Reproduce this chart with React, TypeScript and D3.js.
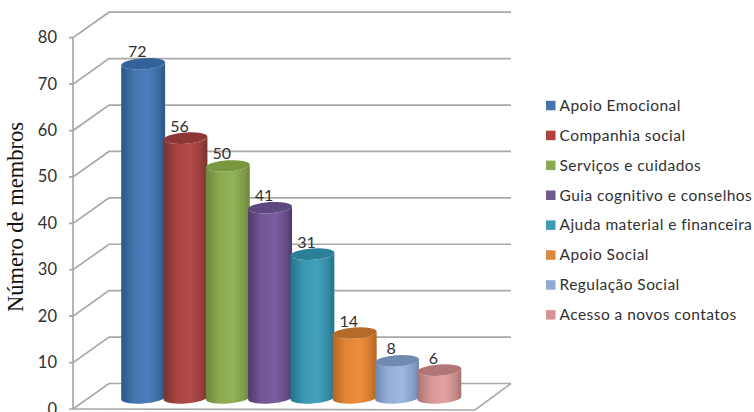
import React from "react";
import * as d3 from "d3";

const categories = [
  "Apoio Emocional",
  "Companhia social",
  "Serviços e cuidados",
  "Guia cognitivo e conselhos",
  "Ajuda material e financeira",
  "Apoio Social",
  "Regulação Social",
  "Acesso a novos contatos",
];
const values = [72, 56, 50, 41, 31, 14, 8, 6];
const yTicks = [0, 10, 20, 30, 40, 50, 60, 70, 80];
const mainColors = ["#4a7ebb", "#b34a48", "#93b356", "#7c5da1", "#43a2bd", "#ee8d3d", "#a0b8e0", "#e3a2a2"];
const edgeColors = ["#2c5686", "#78322f", "#6b853c", "#4e3a6b", "#22728a", "#b4651f", "#6d86b0", "#a87272"];
const capColors = ["#33639a", "#8d3836", "#78973f", "#5d4880", "#2b7f96", "#b56a2a", "#708aB2", "#b27678"];
const legendColors = ["#4575ad", "#b0413e", "#8aa94e", "#71588f", "#3f9bb3", "#dd8840", "#93a9d2", "#d79393"];

const WIDTH = 754;
const HEIGHT = 412;
const FRONT_X = 73;
const WALL_DX = 36;
const WALL_DY = 25.5;
const WALL_RIGHT = 511;
const FLOOR_RIGHT = 475;
const GRID = "#a8a8a8";
const TEXT = "#303030";
const TILT = -4;

const y = d3.scaleLinear().domain([0, 80]).range([409, 37.7]);
const x = d3.scaleBand<string>().domain(categories).range([122, 460.5]).paddingInner(0).paddingOuter(0);

// Baseline of the cylinders sits partway between the front edge and the back wall.
const barBase = 11;
const rx = 22;
const ry = 5.6;
const tiltRise = rx * Math.sin((-TILT * Math.PI) / 180);
const tiltRun = rx * Math.cos((TILT * Math.PI) / 180);

function cylinderPath(cx: number, top: number, bottom: number) {
  const l = cx - tiltRun;
  const r = cx + tiltRun;
  return [
    `M${l},${top + tiltRise}`,
    `L${l},${bottom + tiltRise}`,
    `A${rx},${ry} ${TILT} 0 0 ${r},${bottom - tiltRise}`,
    `L${r},${top - tiltRise}`,
    `A${rx},${ry} ${TILT} 0 1 ${l},${top + tiltRise}`,
    "Z",
  ].join(" ");
}

export default function App() {
  return (
    <svg
      width={WIDTH}
      height={HEIGHT}
      viewBox={`0 0 ${WIDTH} ${HEIGHT}`}
      style={{ position: "absolute", left: 0, top: 0, background: "#fff" }}
    >
      <defs>
        {categories.map((c, i) => (
          <linearGradient key={c} id={`cyl-${i}`} x1="0" x2="1" y1="0" y2="0">
            <stop offset="0%" stopColor={edgeColors[i]} />
            <stop offset="30%" stopColor={d3.interpolateRgb(mainColors[i], edgeColors[i])(0.2)} />
            <stop offset="62%" stopColor={mainColors[i]} />
            <stop offset="86%" stopColor={d3.interpolateRgb(mainColors[i], edgeColors[i])(0.5)} />
            <stop offset="100%" stopColor={edgeColors[i]} />
          </linearGradient>
        ))}
      </defs>

      {/* Side wall, back wall and floor of the 3D frame */}
      <g fill="none" stroke={GRID} strokeWidth={1.7}>
        <line x1={FRONT_X} x2={FRONT_X} y1={y(80)} y2={y(0)} />
        {yTicks.map((t) => (
          <path
            key={t}
            d={`M${FRONT_X - 4},${y(t)} L${FRONT_X},${y(t)} L${FRONT_X + WALL_DX},${y(t) - WALL_DY} L${WALL_RIGHT},${y(t) - WALL_DY}`}
          />
        ))}
        <path
          d={`M${FRONT_X},${y(0)} L${FLOOR_RIGHT},${y(0) + 1} L${WALL_RIGHT},${y(0) - WALL_DY}`}
        />
      </g>

      {/* Axis numbers */}
      <g fontFamily="Lato, 'Open Sans', sans-serif" fontSize={16.5} fill={TEXT} textAnchor="end">
        {yTicks.map((t) => (
          <text key={t} x={57} y={y(t) + 5.5}>
            {t}
          </text>
        ))}
      </g>
      <text
        transform="translate(23,217) rotate(-90)"
        textAnchor="middle"
        fontFamily="'Liberation Serif', serif"
        fontSize={22.5}
        fill="#111"
      >
        Número de membros
      </text>

      {/* Cylinders, left to right so each overlaps the previous one */}
      {categories.map((c, i) => {
        const cx = (x(c) as number) + x.bandwidth() / 2;
        const bottom = y(0) - barBase;
        const top = y(values[i]) - barBase;
        return (
          <g key={c}>
            <path d={cylinderPath(cx, top, bottom)} fill={`url(#cyl-${i})`} />
            <ellipse
              cx={cx}
              cy={top}
              rx={rx}
              ry={ry}
              transform={`rotate(${TILT} ${cx} ${top})`}
              fill={capColors[i]}
            />
          </g>
        );
      })}

      {/* Value labels above the caps */}
      <g fontFamily="Lato, 'Open Sans', sans-serif" fontSize={16} fill={TEXT} textAnchor="middle">
        {categories.map((c, i) => (
          <text key={c} x={(x(c) as number) + x.bandwidth() / 2 - 6} y={y(values[i]) - barBase - 6.5}>
            {values[i]}
          </text>
        ))}
      </g>

      {/* Legend */}
      <g fontFamily="Lato, 'Open Sans', sans-serif" fontSize={15.5} letterSpacing={0.45} fill={TEXT}>
        {categories.map((c, i) => {
          const rowY = 105.3 + i * 29.9;
          return (
            <g key={c}>
              <rect x={546} y={rowY - 4.5} width={9.5} height={9.5} fill={legendColors[i]} />
              <text x={559.5} y={rowY + 5.5}>
                {c}
              </text>
            </g>
          );
        })}
      </g>
    </svg>
  );
}
